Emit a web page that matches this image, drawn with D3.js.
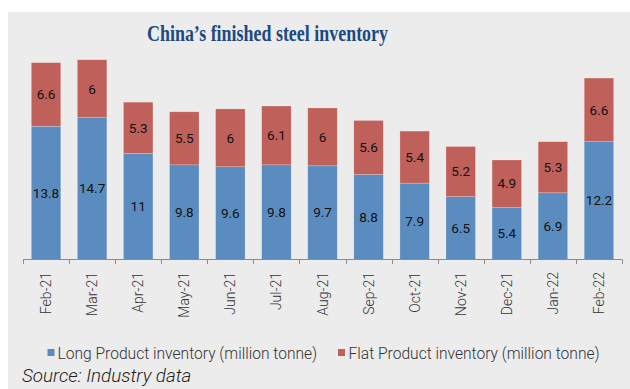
<!DOCTYPE html>
<html>
<head>
<meta charset="utf-8">
<script src="https://cdn.jsdelivr.net/npm/d3@7"></script>
<style>
  html, body { margin: 0; padding: 0; background: #ffffff; }
  svg { display: block; }
</style>
</head>
<body>
<svg id="chart" width="630" height="389"></svg>
<script>
// Monthly finished steel inventory, million tonnes
const months = ["Feb-21", "Mar-21", "Apr-21", "May-21", "Jun-21", "Jul-21", "Aug-21",
                "Sep-21", "Oct-21", "Nov-21", "Dec-21", "Jan-22", "Feb-22"];
const longProduct = [13.8, 14.7, 11, 9.8, 9.6, 9.8, 9.7, 8.8, 7.9, 6.5, 5.4, 6.9, 12.2];
const flatProduct = [6.6, 6, 5.3, 5.5, 6, 6.1, 6, 5.6, 5.4, 5.2, 4.9, 5.3, 6.6];
const seriesNames = ["Long Product inventory (million tonne)", "Flat Product inventory (million tonne)"];
const seriesColors = ["#5b8cbf", "#c0605a"];

const svg = d3.select("#chart");
const W = 630, H = 389;

// Panel background
svg.append("rect").attr("x", 8).attr("y", 12).attr("width", W - 8).attr("height", H - 12)
  .attr("fill", "#ececec");

// Title
svg.append("text")
  .attr("x", 267.5).attr("y", 41)
  .attr("text-anchor", "middle")
  .attr("font-family", "'Liberation Serif', 'DejaVu Serif', serif")
  .attr("font-weight", "bold")
  .attr("font-size", 24)
  .attr("fill", "#1c4a80")
  .attr("textLength", 241)
  .attr("lengthAdjust", "spacingAndGlyphs")
  .text("China\u2019s finished steel inventory");

const table = months.map((m, i) => ({ month: m, long: longProduct[i], flat: flatProduct[i] }));
const stack = d3.stack().keys(["long", "flat"])(table);

const x = d3.scaleBand().domain(months).range([23, 622]).paddingInner(0.36).paddingOuter(0.18);
const y = d3.scaleLinear().domain([0, 25]).range([259.3, 259.3 - 241]);

const g = svg.append("g");

stack.forEach((layer, li) => {
  g.append("g").selectAll("rect").data(layer).join("rect")
    .attr("x", d => x(d.data.month))
    .attr("width", x.bandwidth())
    .attr("y", d => y(d[1]))
    .attr("height", d => y(d[0]) - y(d[1]))
    .attr("fill", seriesColors[li])
    .attr("stroke", "rgba(255,255,255,0.35)")
    .attr("stroke-width", 0.6);

  g.append("g").selectAll("text").data(layer).join("text")
    .attr("x", d => x(d.data.month) + x.bandwidth() / 2)
    .attr("y", d => (y(d[0]) + y(d[1])) / 2)
    .attr("dy", "0.36em")
    .attr("text-anchor", "middle")
    .attr("font-family", "Roboto, 'Noto Sans', sans-serif")
    .attr("font-size", 13.5)
    .attr("fill", "#111111")
    .text(d => li === 0 ? d.data.long : d.data.flat);
});

// X axis with tick marks at category boundaries
const axisG = svg.append("g");
axisG.append("line")
  .attr("x1", 23).attr("x2", 622).attr("y1", 259.5).attr("y2", 259.5)
  .attr("stroke", "#8c8c8c").attr("stroke-width", 1);
const boundaries = d3.range(months.length + 1).map(i => 23 + i * (599 / months.length));
axisG.selectAll("line.tick").data(boundaries).join("line")
  .attr("class", "tick")
  .attr("x1", d => Math.round(d) + 0.5).attr("x2", d => Math.round(d) + 0.5)
  .attr("y1", 259.5).attr("y2", 264)
  .attr("stroke", "#8c8c8c").attr("stroke-width", 1);

axisG.selectAll("text").data(months).join("text")
  .attr("transform", d => `translate(${x(d) + x.bandwidth() / 2 + 5},${272}) rotate(-90)`)
  .attr("text-anchor", "end")
  .attr("font-family", "Roboto, 'Noto Sans', sans-serif")
  .attr("font-weight", 300)
  .attr("font-size", 14)
  .attr("fill", "#333333")
  .text(d => d);

// Legend
const legend = svg.append("g");
const legendItems = [
  { sq: 47.5, tx: 57.5 },
  { sq: 338, tx: 348.5 }
];
legendItems.forEach((p, i) => {
  legend.append("rect").attr("x", p.sq).attr("y", 349).attr("width", 7).attr("height", 7)
    .attr("fill", seriesColors[i]);
  legend.append("text").attr("x", p.tx).attr("y", 358.5)
    .attr("font-family", "Roboto, 'Noto Sans', sans-serif")
    .attr("font-weight", 300)
    .attr("font-size", 15.6)
    .attr("fill", "#333333")
    .text(seriesNames[i]);
});

// Source note
svg.append("text")
  .attr("x", 22).attr("y", 382)
  .attr("font-family", "Roboto, 'Noto Sans', sans-serif")
  .attr("font-style", "italic")
  .attr("font-weight", 300)
  .attr("font-size", 18.8)
  .attr("fill", "#222222")
  .text("Source: Industry data");
</script>
</body>
</html>
